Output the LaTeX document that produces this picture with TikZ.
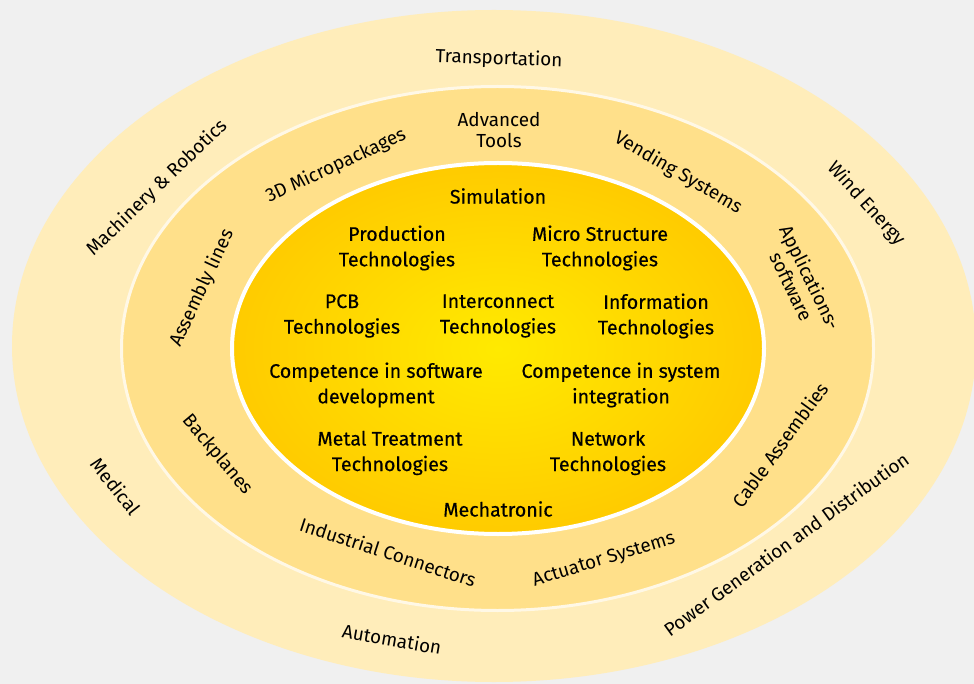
\documentclass[tikz,border=0pt]{standalone}
\usepackage{fontspec}
\setmainfont{Fira Sans}
\newfontfamily\corefont{Fira Sans}[FakeBold=0.4]
\definecolor{bgc}{HTML}{F0F0F0}
\definecolor{outerc}{HTML}{FFEDBA}
\definecolor{midc}{HTML}{FFE08A}
\definecolor{innerin}{HTML}{FFEA00}
\definecolor{innerout}{HTML}{FFCB00}
\definecolor{rimc}{HTML}{FFF8E6}
\begin{document}
\begin{tikzpicture}[x=1pt,y=-1pt,
  core/.style={align=center,font=\corefont\fontsize{19.6}{25.5}\selectfont,inner sep=0pt},
  ring/.style={align=center,font=\fontsize{18.9}{21}\selectfont,inner sep=0pt}]
\useasboundingbox (0,0) rectangle (974,684);
\fill[bgc] (0,0) rectangle (974,684);
\fill[outerc] (494,346) ellipse [x radius=482pt, y radius=336pt];
\fill[midc,draw=rimc,line width=3pt] (497.5,348.5) ellipse [x radius=376pt, y radius=262pt];
\shade[inner color=innerin,outer color=innerout,draw=white,line width=4pt] (498,348.5) ellipse [x radius=266pt, y radius=185.5pt];
% inner texts
\node[core] (sim) at (498,196) {Simulation};
\node[core] (prod) at (397,248) {Production\\Technologies};
\node[core] (micro) at (600,248) {Micro Structure\\Technologies};
\node[core] (pcb) at (342,316) {PCB\\Technologies};
\node[core] (inter) at (498,316) {Interconnect\\Technologies};
\node[core] (info) at (656,316) {Information\\Technologies};
\node[core] (softw) at (376,385) {Competence in software\\development};
\node[core] (sysint) at (621,385) {Competence in system\\integration};
\node[core] (metal) at (390,453) {Metal Treatment\\Technologies};
\node[core] (net) at (608,453) {Network\\Technologies};
\node[core] (mech) at (498,509) {Mechatronic};
% middle ring
\node[ring] (adv) at (499,130) {Advanced\\Tools};
\node[ring,rotate=25] (micropack) at (336,166) {3D Micropackages};
\node[ring,rotate=-30] (vend) at (678,173) {Vending Systems};
\node[ring,rotate=65] (assem) at (202,288) {Assembly lines};
\node[ring,rotate=-64] (apps) at (801,282) {Applications-\\software};
\node[ring,rotate=-50] (back) at (217,455) {Backplanes};
\node[ring,rotate=-18] (indus) at (388,552) {Industrial Connectors};
\node[ring,rotate=17] (actu) at (604,560) {Actuator Systems};
\node[ring,rotate=54] (cable) at (780,445) {Cable Assemblies};
% outer ring
\node[ring,rotate=-2] (trans) at (499,59) {Transportation};
\node[ring,rotate=44] (mach) at (157,188) {Machinery \& Robotics};
\node[ring,rotate=-48] (wind) at (866,204) {Wind Energy};
\node[ring,rotate=-52] (med) at (116,486) {Medical};
\node[ring,rotate=-10] (auto) at (392,639) {Automation};
\node[ring,rotate=36] (power) at (786,544) {Power Generation and Distribution};
\end{tikzpicture}
\end{document}
